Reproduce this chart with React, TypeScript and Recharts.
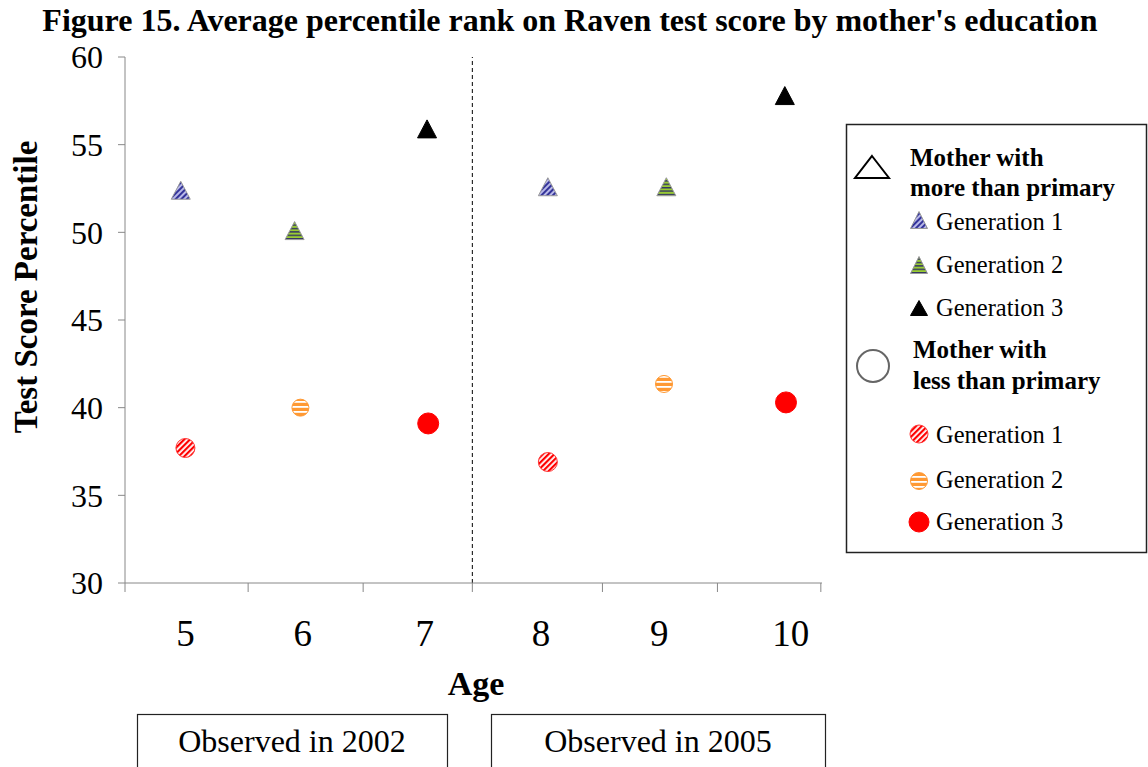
import React from "react";
import { ScatterChart, Scatter, XAxis, YAxis, ReferenceLine } from "recharts";

const FONT = '"Liberation Serif", "Times New Roman", serif';

// y axis
const yTicks = [30, 35, 40, 45, 50, 55, 60];

// x axis (age units)
const xDomain = [4.5, 10.5];
const xTickMarks = [4.5, 5.56, 6.55, 7.49, 8.61, 9.6, 10.49];
const ageLabels = ["5", "6", "7", "8", "9", "10"];
const ageLabelPos = [5.02, 6.03, 7.08, 8.08, 9.1, 10.23];
const splitAt = 7.49;

// mother with more than primary
const moreGen1 = [
  { x: 4.98, y: 52.4 },
  { x: 8.14, y: 52.6 },
];
const moreGen2 = [
  { x: 5.96, y: 50.1 },
  { x: 9.16, y: 52.6 },
];
const moreGen3 = [
  { x: 7.1, y: 55.9 },
  { x: 10.18, y: 57.8 },
];

// mother with less than primary
const lessGen1 = [
  { x: 5.02, y: 37.7 },
  { x: 8.14, y: 36.9 },
];
const lessGen2 = [
  { x: 6.01, y: 40.0 },
  { x: 9.14, y: 41.35 },
];
const lessGen3 = [
  { x: 7.11, y: 39.1 },
  { x: 10.19, y: 40.3 },
];

function Patterns() {
  return (
    <svg width={0} height={0} style={{ position: "absolute" }}>
      <defs>
        <pattern id="pBlue" width={4} height={4} patternUnits="userSpaceOnUse" patternTransform="rotate(-45)">
          <rect width={4} height={4} fill="#b8b8e8" />
          <rect width={4} height={2} fill="#333399" />
        </pattern>
        <pattern id="pGreen" width={4} height={3.4} patternUnits="userSpaceOnUse">
          <rect width={4} height={3.4} fill="#99cc33" />
          <rect width={4} height={1.4} fill="#333366" />
        </pattern>
        <pattern id="pRed" width={4} height={4} patternUnits="userSpaceOnUse" patternTransform="rotate(-45)">
          <rect width={4} height={4} fill="#ffffff" />
          <rect width={4} height={2.2} fill="#ff0000" />
        </pattern>
        <pattern id="pOrange" width={5} height={5} patternUnits="userSpaceOnUse" y={1}>
          <rect width={5} height={5} fill="#ff9933" />
          <rect width={5} height={1.8} fill="#ffffff" />
        </pattern>
      </defs>
    </svg>
  );
}

function tri(cx: number, cy: number, w: number, h: number, fill: string, stroke: string, sw = 1) {
  const pts = `${cx},${cy - h / 2} ${cx + w / 2},${cy + h / 2} ${cx - w / 2},${cy + h / 2}`;
  return <polygon points={pts} fill={fill} stroke={stroke} strokeWidth={sw} />;
}

const triShape = (fill: string, stroke: string) => (props: any) =>
  tri(props.cx, props.cy, 19, 18, fill, stroke);

const dotShape = (fill: string, stroke: string, r: number) => (props: any) => (
  <circle cx={props.cx} cy={props.cy} r={r} fill={fill} stroke={stroke} strokeWidth={1} />
);

function Overlay() {
  const txt = { fontFamily: FONT, fill: "#000" } as const;
  return (
    <svg
      width={1148}
      height={767}
      style={{ position: "absolute", left: 0, top: 0, pointerEvents: "none" }}
    >
      <text x={570} y={31} textAnchor="middle" fontSize={32} fontWeight="bold" {...txt}>
        Figure 15. Average percentile rank on Raven test score by mother's education
      </text>
      <text
        x={37}
        y={287}
        transform="rotate(-90 37 287)"
        textAnchor="middle"
        fontSize={33}
        fontWeight="bold"
        {...txt}
      >
        Test Score Percentile
      </text>
      <text x={476} y={695} textAnchor="middle" fontSize={34} fontWeight="bold" {...txt}>
        Age
      </text>

      <rect x={137.5} y={714.5} width={310} height={70} fill="none" stroke="#222" strokeWidth={1.2} />
      <text x={292} y={752} textAnchor="middle" fontSize={32} {...txt}>
        Observed in 2002
      </text>
      <rect x={491.5} y={714.5} width={334} height={70} fill="none" stroke="#222" strokeWidth={1.2} />
      <text x={658} y={752} textAnchor="middle" fontSize={32} {...txt}>
        Observed in 2005
      </text>

      {/* legend */}
      <rect x={846.5} y={124.5} width={300} height={428} fill="#fff" stroke="#222" strokeWidth={1.5} />
      {tri(872, 167, 34, 22, "none", "#000", 2)}
      <text x={910} y={166} fontSize={25} fontWeight="bold" {...txt}>Mother with</text>
      <text x={910} y={196} fontSize={25} fontWeight="bold" {...txt}>more than primary</text>
      {tri(919, 220, 17, 17, "url(#pBlue)", "#999")}
      <text x={936} y={230} fontSize={24.5} {...txt}>Generation 1</text>
      {tri(919, 265, 17, 17, "url(#pGreen)", "#999")}
      <text x={936} y={273} fontSize={24.5} {...txt}>Generation 2</text>
      {tri(919, 308, 17, 15, "#000", "#000")}
      <text x={936} y={316} fontSize={24.5} {...txt}>Generation 3</text>

      <circle cx={873} cy={366} r={16} fill="none" stroke="#666" strokeWidth={2} />
      <text x={913} y={358} fontSize={25} fontWeight="bold" {...txt}>Mother with</text>
      <text x={913} y={389} fontSize={25} fontWeight="bold" {...txt}>less than primary</text>
      <circle cx={919} cy={434} r={9} fill="url(#pRed)" stroke="#ff3333" strokeWidth={1} />
      <text x={936} y={443} fontSize={24.5} {...txt}>Generation 1</text>
      <circle cx={919} cy={481} r={8.5} fill="url(#pOrange)" stroke="#ff9933" strokeWidth={1} />
      <text x={936} y={488} fontSize={24.5} {...txt}>Generation 2</text>
      <circle cx={919} cy={522} r={10} fill="#ff0000" stroke="#ff0000" strokeWidth={1} />
      <text x={936} y={530} fontSize={24.5} {...txt}>Generation 3</text>
    </svg>
  );
}

export default function App() {
  return (
    <div style={{ position: "absolute", left: 0, top: 0, width: 1148, height: 767, background: "#fff" }}>
      <Patterns />
      <ScatterChart
        width={1148}
        height={767}
        margin={{ top: 57, right: 326, bottom: 122, left: 65 }}
      >
        <XAxis
          xAxisId="a_ticks"
          type="number"
          dataKey="x"
          domain={xDomain}
          ticks={xTickMarks}
          tickFormatter={() => ""}
          tickSize={9}
          stroke="#888"
          height={12}
          allowDataOverflow
        />
        <XAxis
          xAxisId="b_labels"
          type="number"
          dataKey="x"
          domain={xDomain}
          ticks={ageLabelPos}
          tickFormatter={(v: number) => ageLabels[ageLabelPos.indexOf(v)] ?? ""}
          axisLine={false}
          tickLine={false}
          height={50}
          tickMargin={19}
          tick={{ fontFamily: FONT, fontSize: 37, fill: "#000" }}
          allowDataOverflow
        />
        <YAxis
          type="number"
          dataKey="y"
          domain={[30, 60]}
          ticks={yTicks}
          width={60}
          tickSize={7}
          tickMargin={15}
          stroke="#888"
          tick={{ fontFamily: FONT, fontSize: 32, fill: "#000" }}
          allowDataOverflow
        />
        <ReferenceLine xAxisId="a_ticks" x={splitAt} stroke="#000" strokeDasharray="4 3" strokeWidth={1} />
        <Scatter xAxisId="a_ticks" data={moreGen1} shape={triShape("url(#pBlue)", "#999")} isAnimationActive={false} />
        <Scatter xAxisId="a_ticks" data={moreGen2} shape={triShape("url(#pGreen)", "#999")} isAnimationActive={false} />
        <Scatter xAxisId="a_ticks" data={moreGen3} shape={triShape("#000", "#000")} isAnimationActive={false} />
        <Scatter xAxisId="a_ticks" data={lessGen1} shape={dotShape("url(#pRed)", "#ff3333", 9.5)} isAnimationActive={false} />
        <Scatter xAxisId="a_ticks" data={lessGen2} shape={dotShape("url(#pOrange)", "#ff9933", 8.5)} isAnimationActive={false} />
        <Scatter xAxisId="a_ticks" data={lessGen3} shape={dotShape("#ff0000", "#ff0000", 10.5)} isAnimationActive={false} />
      </ScatterChart>
      <Overlay />
    </div>
  );
}
